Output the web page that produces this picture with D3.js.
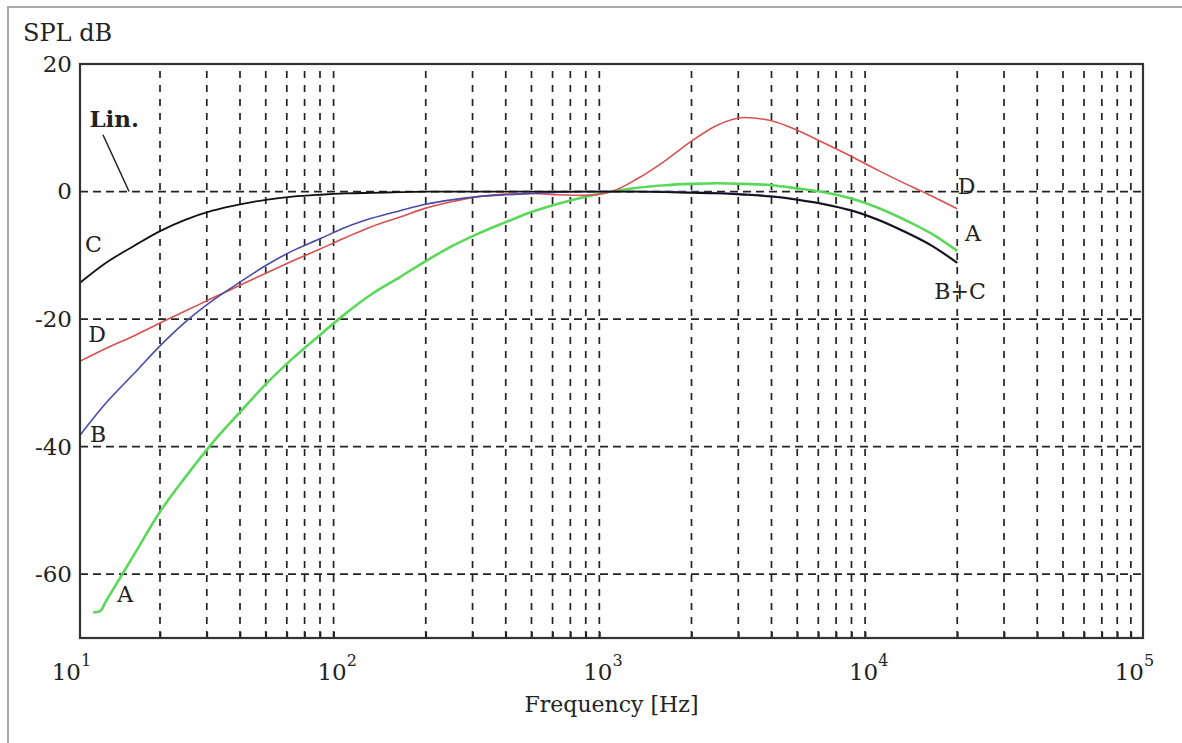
<!DOCTYPE html>
<html>
<head>
<meta charset="utf-8">
<script src="https://cdn.jsdelivr.net/npm/d3@7"></script>
<style>
	body { margin: 0; background: #fff; }
	text { font-family: "DejaVu Serif", serif; fill: #222; }
</style>
</head>
<body>
<svg id="chart"></svg>
<script>
// DATA (weighting curves, dB vs Hz)

var freqs = [10, 12.5, 16, 20, 25, 31.5, 40, 50, 63, 80, 100, 125, 160, 200, 250, 315, 400, 500, 630, 800,
	1000, 1250, 1600, 2000, 2500, 3150, 4000, 5000, 6300, 8000, 10000, 12500, 16000, 20000];

var curveB = [-38.2, -33.2, -28.5, -24.2, -20.4, -17.1, -14.2, -11.6, -9.3, -7.4, -5.6, -4.2, -3.0, -2.0, -1.3, -0.8, -0.5, -0.3, -0.1, 0,
	0, 0, 0, -0.1, -0.2, -0.4, -0.7, -1.2, -1.9, -2.9, -4.3, -6.1, -8.4, -11.1];

var curveC = [-14.3, -11.2, -8.5, -6.2, -4.4, -3.0, -2.0, -1.3, -0.8, -0.5, -0.3, -0.2, -0.1, 0, 0, 0, 0, 0, 0, 0,
	0, 0, -0.1, -0.2, -0.3, -0.5, -0.8, -1.3, -2.0, -3.0, -4.4, -6.2, -8.5, -11.2];

var curveD = [-26.6, -24.6, -22.6, -20.6, -18.7, -16.7, -14.7, -12.8, -10.9, -9.0, -7.2, -5.5, -4.0, -2.6, -1.6, -0.8, -0.4, -0.3, -0.5, -0.6,
	0, 2.0, 4.9, 7.9, 10.4, 11.6, 11.1, 9.6, 7.6, 5.5, 3.4, 1.4, -0.7, -2.7];

// A starts a little above 10 Hz with a short flat step
var freqsA = [11.2, 11.9].concat(freqs.slice(1));
var curveA = [-66.0, -65.8, -64.3, -56.9, -50.2, -44.7, -39.4, -34.6, -30.2, -26.2, -22.5, -19.1, -16.1, -13.4, -10.9, -8.6, -6.6, -4.8, -3.2, -1.9, -0.8,
	0, 0.6, 1.0, 1.2, 1.3, 1.2, 1.0, 0.5, -0.1, -1.1, -2.5, -4.3, -6.6, -9.3];

var yTicks = [20, 0, -20, -40, -60];
var yGrid = [0, -20, -40, -60];
var decades = [10, 100, 1000, 10000, 100000];
var decadeExp = ["1", "2", "3", "4", "5"];

// curve labels: text, freq, dB
var labelText = ["C", "D", "B", "A", "D", "A", "B+C"];
var labelFreq = [10.45, 10.75, 10.9, 13.8, 20100, 21400, 16400];
var labelDb = [-9.5, -23.6, -39.3, -64.3, -0.4, -7.7, -16.8];

// DIMENSIONS

var width = 1182,
	height = 743,
	plotLeft = 80,
	plotRight = 1143,
	plotTop = 64,
	plotBottom = 638;

var svg = d3.select("#chart")
	.attr('width', width)
	.attr('height', height);

var x = d3.scaleLog().domain([10, 100000]).range([plotLeft, plotRight]);
var y = d3.scaleLinear().domain([-70, 20]).range([plotBottom, plotTop]);

// outer frame (only top and left visible)
svg.append('path')
	.attr('d', 'M8,743 L8,7 L1182,7')
	.style('fill', 'none')
	.style('stroke', '#aaa')
	.style('stroke-width', 2);

// GRID

var minor = [];
for (var e = 1; e < 5; e++) {
	for (var k = 2; k <= 9; k++) minor.push(k * Math.pow(10, e));
}

svg.append('g').selectAll('line').data(minor)
	.enter().append('line')
	.attr('x1', function(d) { return x(d); })
	.attr('x2', function(d) { return x(d); })
	.attr('y1', plotBottom)
	.attr('y2', plotTop)
	.style('stroke', '#222')
	.style('stroke-width', 1.7)
	.style('stroke-dasharray', '7,7');

svg.append('g').selectAll('line').data(yGrid)
	.enter().append('line')
	.attr('x1', plotLeft)
	.attr('x2', plotRight)
	.attr('y1', function(d) { return y(d); })
	.attr('y2', function(d) { return y(d); })
	.style('stroke', '#222')
	.style('stroke-width', 1.7)
	.style('stroke-dasharray', '8,5');

// small inward ticks on the bottom
var xAxis = d3.axisBottom(x).tickValues(minor).tickSize(-6).tickFormat('');
var gx = svg.append('g').attr('transform', 'translate(0,' + plotBottom + ')');
xAxis(gx);
gx.select('.domain').remove();
gx.selectAll('line').style('stroke', '#222').style('stroke-width', 1.7);

// CURVES

var line = d3.line()
	.x(function(d) { return x(d[0]); })
	.y(function(d) { return y(d[1]); })
	.curve(d3.curveMonotoneX);

function pairs(fs, vs) { return fs.map(function(f, i) { return [f, vs[i]]; }); }

svg.append('path').datum(pairs(freqsA, curveA))
	.attr('d', line)
	.style('fill', 'none').style('stroke', '#5ad85a').style('stroke-width', 2.6);

svg.append('path').datum(pairs(freqs, curveD))
	.attr('d', line)
	.style('fill', 'none').style('stroke', '#d95050').style('stroke-width', 1.6);

svg.append('path').datum(pairs(freqs, curveB))
	.attr('d', line)
	.style('fill', 'none').style('stroke', '#4a4aa8').style('stroke-width', 1.6);

svg.append('path').datum(pairs(freqs, curveC))
	.attr('d', line)
	.style('fill', 'none').style('stroke', '#111').style('stroke-width', 1.8);

// plot frame
svg.append('rect')
	.attr('x', plotLeft).attr('y', plotTop)
	.attr('width', plotRight - plotLeft).attr('height', plotBottom - plotTop)
	.style('fill', 'none')
	.style('stroke', '#333')
	.style('stroke-width', 2.2);

// AXIS LABELS

var yAxis = d3.axisLeft(y).tickValues(yTicks).tickSize(0).tickPadding(8)
	.tickFormat(function(d) { return d; });
var gy = svg.append('g').attr('transform', 'translate(' + plotLeft + ',0)');
yAxis(gy);
gy.select('.domain').remove();
gy.selectAll('text')
	.style('font-family', '"DejaVu Serif", serif')
	.style('font-size', '23px')
	.style('fill', '#222');

var dec = svg.append('g').selectAll('g').data(decades).enter().append('g');
dec.append('text')
	.attr('x', function(d) { return x(d) + 1; })
	.attr('y', 680)
	.attr('text-anchor', 'end')
	.style('font-size', '23px')
	.text('10');
dec.append('text')
	.attr('x', function(d) { return x(d) + 1; })
	.attr('y', 666)
	.style('font-size', '16px')
	.text(function(d, i) { return decadeExp[i]; });

svg.append('text')
	.attr('x', 23).attr('y', 41)
	.style('font-size', '24px')
	.text('SPL dB');

svg.append('text')
	.attr('x', (plotLeft + plotRight) / 2).attr('y', 712)
	.attr('text-anchor', 'middle')
	.style('font-size', '22px')
	.text('Frequency [Hz]');

// CURVE LABELS

svg.append('g').selectAll('text').data(labelText)
	.enter().append('text')
	.attr('x', function(d, i) { return x(labelFreq[i]); })
	.attr('y', function(d, i) { return y(labelDb[i]); })
	.style('font-size', '22px')
	.text(function(d) { return d; });

svg.append('text')
	.attr('x', x(10.85)).attr('y', y(10.1))
	.style('font-size', '23px')
	.style('font-weight', 'bold')
	.text('Lin.');

svg.append('line')
	.attr('x1', x(12.2)).attr('y1', y(8.9))
	.attr('x2', x(15.3)).attr('y2', y(0))
	.style('stroke', '#222')
	.style('stroke-width', 1.5);
</script>
</body>
</html>
